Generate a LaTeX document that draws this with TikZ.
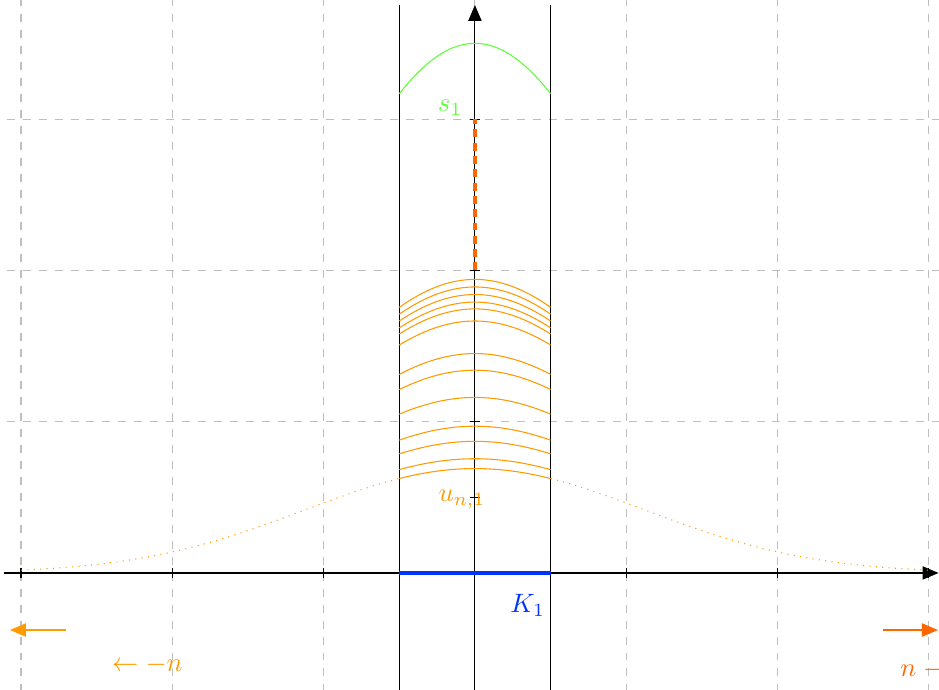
\documentclass[tikz,border=0pt]{standalone}
\usepackage{amsmath,amssymb}
\usepackage{tikz}
\usetikzlibrary{arrows.meta, calc}
\definecolor{arcorange}{HTML}{FF9A00}
\definecolor{deeporange}{HTML}{FF6600}
\definecolor{kblue}{HTML}{0033FF}
\definecolor{sgreen}{HTML}{5CFF33}

\begin{document}
\begin{tikzpicture}[
  x=2cm, y=2cm,
  gridline/.style={gray!50, dashed},
  axisline/.style={-{Triangle[length=6pt,width=5pt]}},
  lbl/.style={anchor=base west, inner sep=0pt}
]
\useasboundingbox (-3.139,-0.767) rectangle (3.067,3.787);
\clip (-3.139,-0.767) rectangle (3.067,3.787);
% Grid
\foreach \x in {-3,...,3} \draw[gridline] (\x,-1) -- (\x,4);
\foreach \y in {1,2,3} \draw[gridline] (-3.2,\y) -- (3.2,\y);

% Strip around K_1
\draw (-0.5,-1) -- (-0.5,3.754);
\draw (0.5,-1) -- (0.5,3.754);

% Axes and ticks
\draw[axisline] (-3.11,0) -- (3.064,0);
\draw[axisline] (0,-1) -- (0,3.754);
\foreach \x in {-3,...,3} \draw (\x,0.035) -- (\x,-0.035);
\foreach \y in {0.5,1,2,3} \draw (-0.035,\y) -- (0.035,\y);

% Profiles u_{n,k}
\foreach \h in {1.94,1.89,1.84,1.79,1.745,1.665,1.45,1.34,1.16,0.97,0.87,0.755,0.69}
  \draw[arcorange, domain=-0.5:0.5, smooth, samples=30] plot (\x, {\h*exp(-0.4*\x*\x)});
\draw[arcorange, dotted, domain=-3:-0.5, smooth, samples=60] plot (\x, {0.69*exp(-0.4*\x*\x)});
\draw[arcorange, dotted, domain=0.5:3, smooth, samples=60] plot (\x, {0.69*exp(-0.4*\x*\x)});

% Limit s_1
\draw[sgreen, domain=-0.5:0.5, smooth, samples=30] plot (\x, {3.5*exp(-0.4*\x*\x)});
\draw[deeporange, very thick, densely dashed] (0,2) -- (0,3);

% K_1
\draw[kblue, ultra thick] (-0.5,0) -- (0.5,0);

% Labels
\node[lbl, text=sgreen] (slabel) at (-0.249,3.053) {$s_1$};
\node[text=arcorange] (ulabel) at (-0.086,0.482) {$u_{n,1}$};
\node[lbl, text=kblue] (klabel) at (0.231,-0.262) {$K_1$};
\node[lbl, text=arcorange] (leftlabel) at (-2.403,-0.654) {$\leftarrow -n$};
\node[lbl, text=deeporange] (rightlabel) at (2.809,-0.687) {$n \rightarrow$};

% Escape arrows
\coordinate (lstart) at (-2.70,-0.377);
\coordinate (lend) at (-3.073,-0.377);
\coordinate (rstart) at (2.70,-0.377);
\coordinate (rend) at (3.06,-0.377);
\draw[arcorange, -{Triangle[length=6pt,width=5pt]}] (lstart) -- (lend);
\draw[deeporange, -{Triangle[length=6pt,width=5pt]}] (rstart) -- (rend);
\end{tikzpicture}
\end{document}
